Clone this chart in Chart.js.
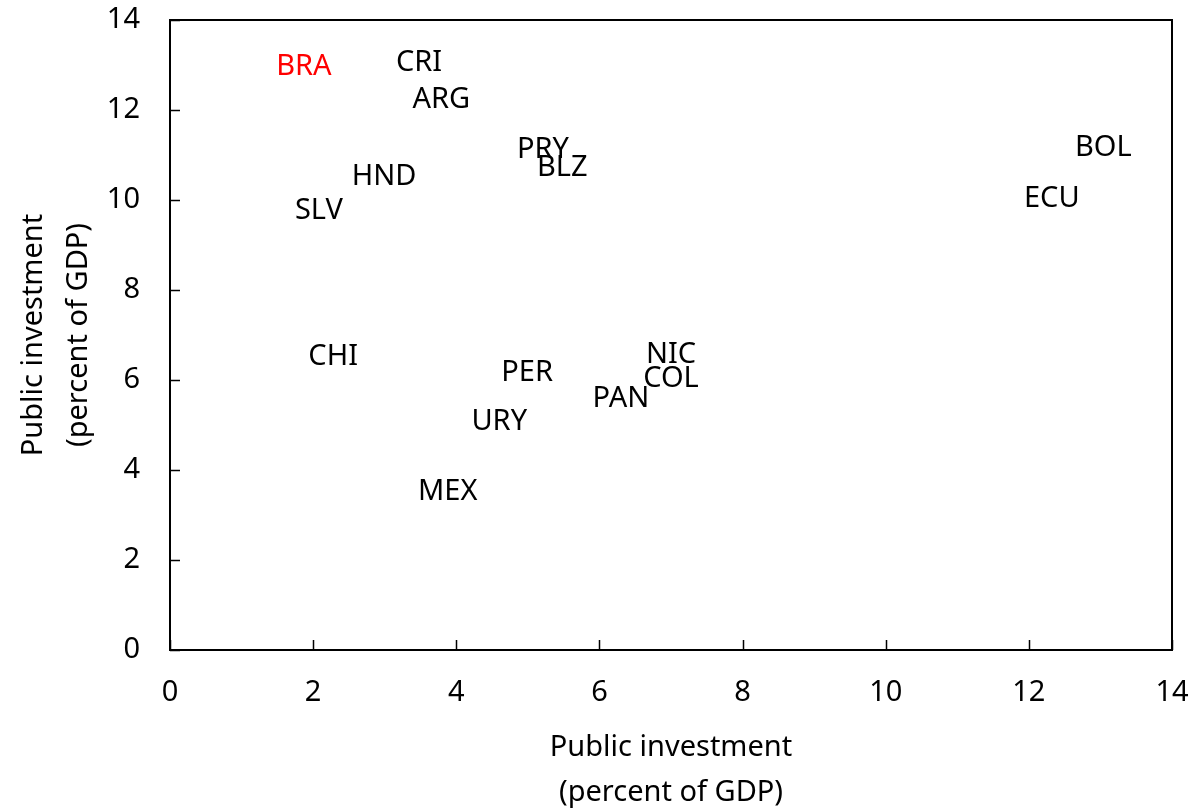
<!DOCTYPE html>
<html>
<head>
<meta charset="utf-8">
<script src="https://cdn.jsdelivr.net/npm/chart.js@4"></script>
<style>
  body { margin: 0; background: #fff; }
  #wrap { width: 1193px; height: 811px; }
</style>
</head>
<body>
<div id="wrap"><canvas id="myChart"></canvas></div>
<script>
// country codes and their (x, y) values
var countries = ["BRA", "CRI", "ARG", "PRY", "BLZ", "HND", "SLV", "BOL", "ECU", "CHI", "PER", "NIC", "COL", "PAN", "URY", "MEX"];
var xVals = [1.87, 3.48, 3.79, 5.21, 5.48, 2.99, 2.08, 13.04, 12.32, 2.28, 4.99, 7.0, 7.0, 6.3, 4.6, 3.88];
var yVals = [13.0, 13.09, 12.27, 11.16, 10.76, 10.56, 9.8, 11.2, 10.07, 6.56, 6.2, 6.6, 6.07, 5.62, 5.11, 3.56];
var labelColors = countries.map(function (c) { return c == "BRA" ? "#ff0000" : "#000000"; });
var axisTitle = ["Public investment", "(percent of GDP)"];

var fontFamily = "'Noto Sans', 'Open Sans', sans-serif";
var ctx = document.getElementById("myChart");

var points = [];
for (i = 0; i < countries.length; i++) {
  points.push({ x: xVals[i], y: yVals[i] });
}

// draws the country codes at the points, the box round the plot and inward ticks
var labelPlugin = {
  id: "labels",
  afterDatasetsDraw: function (chart) {
    var c = chart.ctx;
    var meta = chart.getDatasetMeta(0);
    c.save();
    c.font = "29px " + fontFamily;
    c.textAlign = "center";
    c.textBaseline = "middle";
    meta.data.forEach(function (pt, i) {
      c.fillStyle = labelColors[i];
      c.fillText(countries[i], pt.x, pt.y + 2);
    });
    c.restore();
  },
  afterDraw: function (chart) {
    var c = chart.ctx;
    var a = chart.chartArea;
    var xs = chart.scales.x;
    var ys = chart.scales.y;
    c.save();
    c.strokeStyle = "#000";
    c.lineWidth = 2;
    c.strokeRect(a.left, a.top, a.right - a.left, a.bottom - a.top);
    c.lineWidth = 1.5;
    c.beginPath();
    xs.ticks.forEach(function (t) {
      var px = Math.round(xs.getPixelForValue(t.value)) + 0.5;
      c.moveTo(px, a.bottom);
      c.lineTo(px, a.bottom - 10);
    });
    ys.ticks.forEach(function (t) {
      var py = Math.round(ys.getPixelForValue(t.value)) + 0.5;
      c.moveTo(a.left, py);
      c.lineTo(a.left + 10, py);
    });
    c.stroke();
    c.restore();
  },
};

var myChart = new Chart(ctx, {
  type: "scatter",
  data: {
    datasets: [
      {
        data: points,
        pointRadius: 0,
        pointHoverRadius: 0,
      },
    ],
  },
  options: {
    responsive: true,
    maintainAspectRatio: false,
    animation: false,
    layout: { padding: { left: 0, right: 21, top: 20, bottom: 0 } },
    plugins: { legend: { display: false }, tooltip: { enabled: false } },
    scales: {
      x: {
        min: 0,
        max: 14,
        ticks: { stepSize: 2, color: "#000", padding: 25, font: { family: fontFamily, size: 29 } },
        grid: { display: false, drawTicks: false },
        border: { display: false },
        title: {
          display: true,
          text: axisTitle,
          color: "#000",
          font: { family: fontFamily, size: 29, lineHeight: 1.55 },
          padding: { top: 0, bottom: -4 },
        },
        afterFit: function (scale) {
          scale.height = 161;
          scale.paddingLeft = 0;
          scale.paddingRight = 0;
        },
      },
      y: {
        min: 0,
        max: 14,
        ticks: { stepSize: 2, color: "#000", padding: 30, font: { family: fontFamily, size: 29 } },
        grid: { display: false, drawTicks: false },
        border: { display: false },
        title: {
          display: true,
          text: axisTitle,
          color: "#000",
          font: { family: fontFamily, size: 29, lineHeight: 1.55 },
          padding: { top: 11, bottom: 0 },
        },
        afterFit: function (scale) {
          scale.width = 170;
          scale.paddingTop = 0;
          scale.paddingBottom = 0;
        },
      },
    },
  },
  plugins: [labelPlugin],
});
</script>
</body>
</html>
